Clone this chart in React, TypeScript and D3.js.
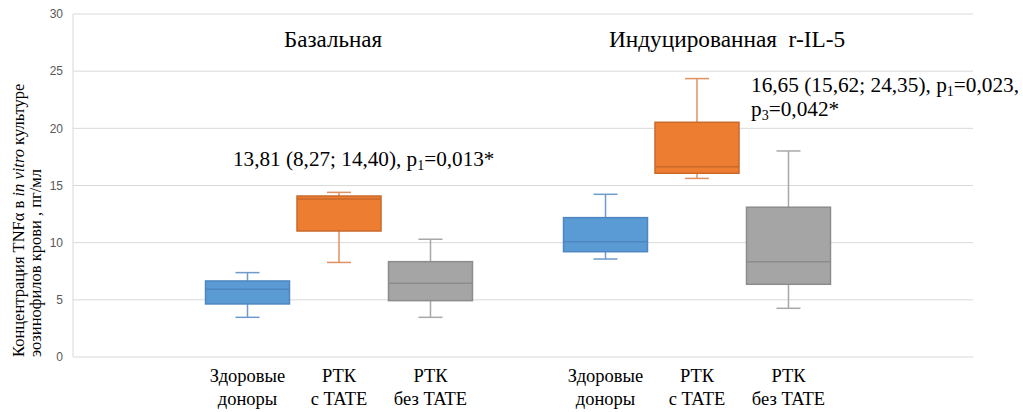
import React from "react";
import * as d3 from "d3";

const groups = ["Базальная", "Индуцированная  r-IL-5"];
const series = ["Здоровые доноры", "РТК с TATE", "РТК без TATE"];
const seriesLines: string[][] = [["Здоровые", "доноры"], ["РТК", "с TATE"], ["РТК", "без TATE"]];
// per group: [healthy, with TATE, without TATE]
const whiskerLow = [[3.47, 8.27, 3.47], [8.57, 15.62, 4.26]];
const q1 = [[4.64, 11.02, 4.93], [9.21, 16.07, 6.36]];
const median = [[5.92, 13.81, 6.45], [10.09, 16.65, 8.34]];
const q3 = [[6.65, 14.08, 8.34], [12.19, 20.53, 13.1]];
const whiskerHigh = [[7.38, 14.4, 10.3], [14.23, 24.35, 18.02]];
const yTicks = [0, 5, 10, 15, 20, 25, 30];

const fills = ["#5b9bd5", "#ed7d31", "#a5a5a5"];
const strokes = ["#4f86c0", "#c9692a", "#8c8c8c"];
const whiskerColors = ["#6e9bcc", "#e09062", "#a8a8a8"];

const serifStyle = { fontFamily: "'Liberation Serif', 'DejaVu Serif', serif" };

export default function App() {
  const W = 1023, H = 412;
  const left = 73, right = 973, top = 14, bottom = 357;
  const y = d3.scaleLinear().domain([0, 30]).range([bottom, top]);
  const xg = d3.scaleBand().domain(groups).range([160, 876]).padding(0);
  const xs = d3.scaleBand().domain(series).range([0, xg.bandwidth()]).paddingInner(0.082).paddingOuter(0.4975);
  const bw = xs.bandwidth();
  const cap = 12;

  return (
    <svg width={W} height={H} style={{ position: "absolute", left: 0, top: 0, background: "#fff" }}>
      {yTicks.map((t) => (
        <g key={t}>
          <line x1={left} x2={right} y1={y(t)} y2={y(t)} stroke="#d9d9d9" strokeWidth={1} />
          <text x={63} y={y(t)} dy="0.35em" textAnchor="end" style={{ fontFamily: "'Liberation Sans', Arial, sans-serif" }} fontSize={12} fill="#595959">{t}</text>
        </g>
      ))}
      <line x1={left} x2={left} y1={top} y2={bottom} stroke="#d9d9d9" />
      {groups.map((g, gi) => (
        <g key={g}>
          {series.map((s, si) => {
            const x0 = xg(g)! + xs(s)!;
            const cx = x0 + bw / 2;
            return (
              <g key={s}>
                <line x1={cx} x2={cx} y1={y(whiskerHigh[gi][si])} y2={y(q3[gi][si])} stroke={whiskerColors[si]} strokeWidth={1.5} />
                <line x1={cx} x2={cx} y1={y(q1[gi][si])} y2={y(whiskerLow[gi][si])} stroke={whiskerColors[si]} strokeWidth={1.5} />
                <line x1={cx - cap} x2={cx + cap} y1={y(whiskerHigh[gi][si])} y2={y(whiskerHigh[gi][si])} stroke={whiskerColors[si]} strokeWidth={1.5} />
                <line x1={cx - cap} x2={cx + cap} y1={y(whiskerLow[gi][si])} y2={y(whiskerLow[gi][si])} stroke={whiskerColors[si]} strokeWidth={1.5} />
                <rect x={x0} y={y(q3[gi][si])} width={bw} height={y(q1[gi][si]) - y(q3[gi][si])} fill={fills[si]} stroke={strokes[si]} strokeWidth={1.5} />
                <line x1={x0} x2={x0 + bw} y1={y(median[gi][si])} y2={y(median[gi][si])} stroke={strokes[si]} strokeWidth={1.5} />
                {seriesLines[si].map((ln, k) => (
                  <text key={k} x={cx} y={382 + k * 23} textAnchor="middle" style={serifStyle} fontSize={18.5} fill="#000">{ln}</text>
                ))}
              </g>
            );
          })}
        </g>
      ))}
      <text x={333} y={47} textAnchor="middle" style={serifStyle} fontSize={23} fill="#000">{groups[0]}</text>
      <text x={727} y={47} textAnchor="middle" style={{ ...serifStyle, whiteSpace: "pre" }} fontSize={23.3} fill="#000">{groups[1]}</text>
      <text x={233} y={166} style={serifStyle} fontSize={21.2} fill="#000">
        13,81 (8,27; 14,40), p<tspan fontSize={14} dy={4}>1</tspan><tspan dy={-4}>=0,013*</tspan>
      </text>
      <text x={751} y={92} style={serifStyle} fontSize={21.3} fill="#000">
        16,65 (15,62; 24,35), p<tspan fontSize={14} dy={4}>1</tspan><tspan dy={-4}>=0,023,</tspan>
      </text>
      <text x={751} y={116} style={serifStyle} fontSize={21.3} fill="#000">
        p<tspan fontSize={14} dy={4}>3</tspan><tspan dy={-4}>=0,042*</tspan>
      </text>
      <text transform="translate(24,357) rotate(-90)" style={serifStyle} fontSize={16.5} fill="#000">
        Концентрация TNFα в <tspan fontStyle="italic">in vitro</tspan> культуре
      </text>
      <text transform="translate(41,357) rotate(-90)" style={serifStyle} fontSize={16.5} fill="#000">
        эозинофилов крови , пг/мл
      </text>
    </svg>
  );
}
